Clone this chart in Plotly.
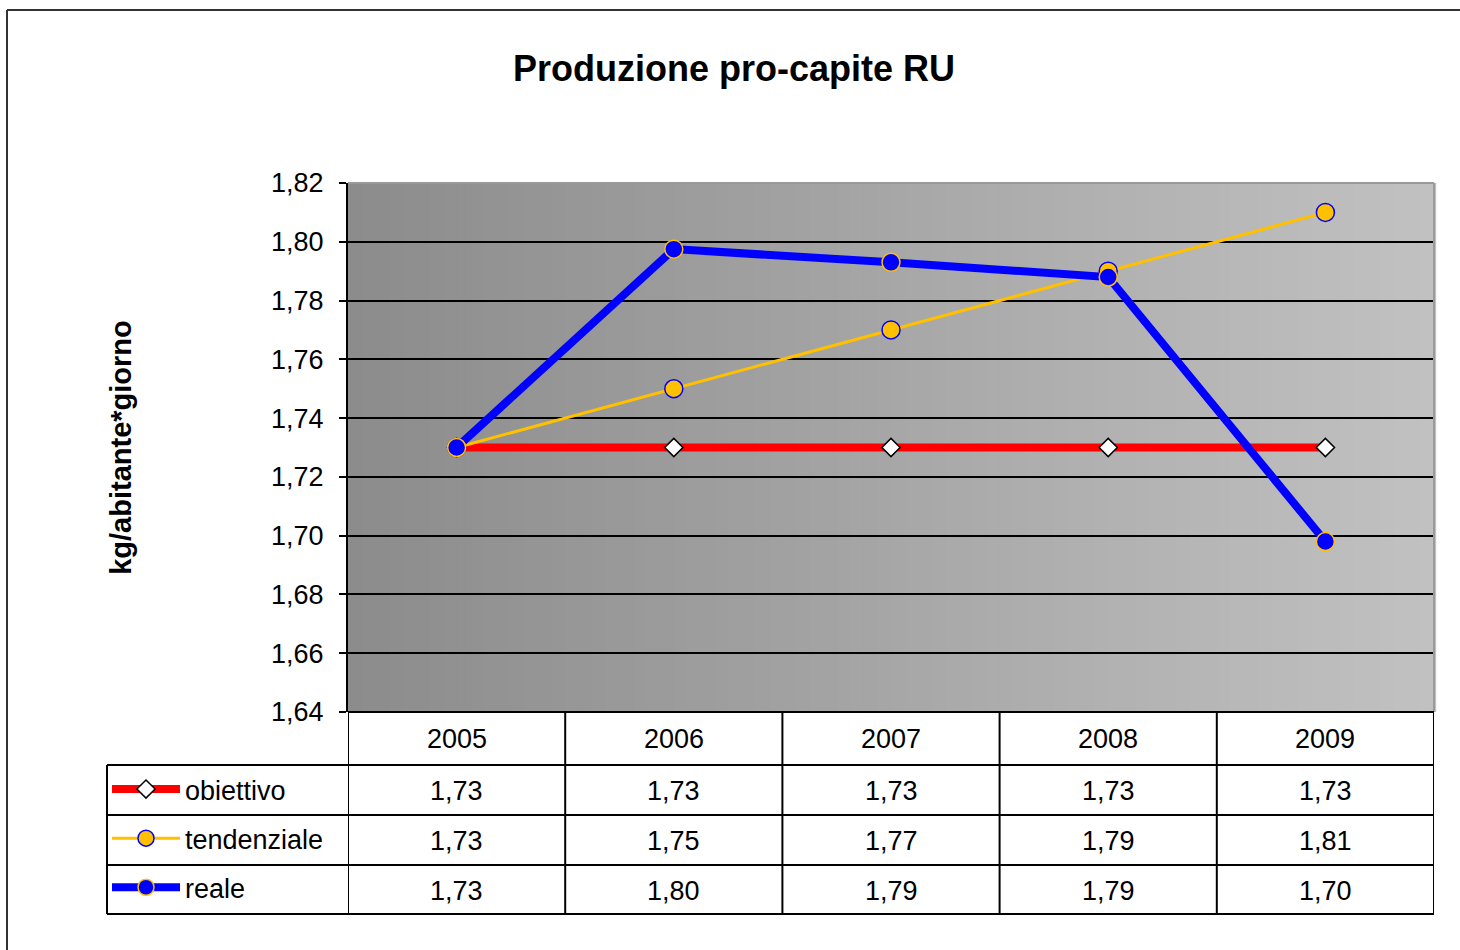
import plotly.graph_objects as go

# ---- data ----
anni = [2005, 2006, 2007, 2008, 2009]
obiettivo = [1.73, 1.73, 1.73, 1.73, 1.73]
tendenziale = [1.73, 1.75, 1.77, 1.79, 1.81]
reale = [1.730, 1.7975, 1.793, 1.788, 1.698]
serie_nomi = ["obiettivo", "tendenziale", "reale"]
y_ticks = [1.64, 1.66, 1.68, 1.70, 1.72, 1.74, 1.76, 1.78, 1.80, 1.82]

W, H = 1460, 950
FONT = "Liberation Sans, Arial, sans-serif"

def px(v):
    return v / W

def py(v):
    return 1 - v / H

# plot area in pixels
PL, PR, PT, PB = 348, 1434, 183, 712
# table rows (pixels)
ROW_TOP = [712, 765, 815, 865]
ROW_BOT = 914
TAB_LEFT = 107

fig = go.Figure()

fig.add_trace(go.Scatter(
    x=anni, y=obiettivo, name=serie_nomi[0], mode="lines+markers",
    line=dict(color="#FF0000", width=8),
    marker=dict(symbol="diamond", size=14, color="white", line=dict(color="black", width=1.5)),
    legendgroup="a",
))
fig.add_trace(go.Scatter(
    x=anni, y=tendenziale, name=serie_nomi[1], mode="lines+markers",
    line=dict(color="#FFC000", width=3),
    marker=dict(symbol="circle", size=18, color="#FFC000", line=dict(color="#0000FF", width=1.5)),
    legendgroup="b",
))
fig.add_trace(go.Scatter(
    x=anni, y=reale, name=serie_nomi[2], mode="lines+markers",
    line=dict(color="#0000FF", width=8),
    marker=dict(symbol="circle", size=18, color="#0000FF", line=dict(color="#FFC000", width=1.5)),
    legendgroup="c",
))

shapes = []
# gradient background
N = 80
c0, c1 = (140, 140, 140), (193, 193, 193)
for i in range(N):
    t = i / (N - 1)
    c = tuple(int(round(c0[k] + (c1[k] - c0[k]) * t)) for k in range(3))
    shapes.append(dict(type="rect", xref="x domain", yref="y domain",
                       x0=i / N, x1=(i + 1) / N + 0.002, y0=0, y1=1,
                       fillcolor="rgb(%d,%d,%d)" % c, line=dict(width=0), layer="below"))
# plot area frame (top & right light gray)
shapes.append(dict(type="line", xref="x domain", yref="y domain", x0=0, x1=1, y0=1, y1=1,
                   line=dict(color="#9a9a9a", width=2)))
shapes.append(dict(type="line", xref="x domain", yref="y domain", x0=1, x1=1, y0=0, y1=1,
                   line=dict(color="#9a9a9a", width=2)))

# outer chart border
shapes.append(dict(type="line", xref="paper", yref="paper", x0=px(7), x1=1.0, y0=py(10), y1=py(10),
                   line=dict(color="#333333", width=2)))
shapes.append(dict(type="line", xref="paper", yref="paper", x0=px(7), x1=px(7), y0=py(10), y1=0,
                   line=dict(color="#333333", width=2)))

tab_line = dict(color="black", width=2)
# table horizontal lines
shapes.append(dict(type="line", xref="paper", yref="paper", x0=px(PL), x1=px(PR), y0=py(PB), y1=py(PB), line=tab_line))
for yy in ROW_TOP[1:] + [ROW_BOT]:
    shapes.append(dict(type="line", xref="paper", yref="paper", x0=px(TAB_LEFT), x1=px(PR),
                       y0=py(yy), y1=py(yy), line=tab_line))
# table vertical lines
for k in range(len(anni) + 1):
    xb = anni[0] - 0.5 + k
    shapes.append(dict(type="line", xref="x", yref="paper", x0=xb, x1=xb,
                       y0=py(PB), y1=py(ROW_BOT), line=tab_line))
shapes.append(dict(type="line", xref="paper", yref="paper", x0=px(TAB_LEFT), x1=px(TAB_LEFT),
                   y0=py(ROW_TOP[1]), y1=py(ROW_BOT), line=tab_line))

annotations = []
cell_font = dict(family=FONT, size=27, color="black")
for i, a in enumerate(anni):
    annotations.append(dict(x=a, y=py((ROW_TOP[0] + ROW_TOP[1]) / 2), xref="x", yref="paper",
                            text=str(a), showarrow=False, font=cell_font, xanchor="center", yanchor="middle"))
series = [obiettivo, tendenziale, reale]
for r, vals in enumerate(series):
    top = ROW_TOP[r + 1]
    bot = ROW_TOP[r + 2] if r + 2 < len(ROW_TOP) else ROW_BOT
    for i, a in enumerate(anni):
        annotations.append(dict(x=a, y=py((top + bot) / 2 + 1), xref="x", yref="paper",
                                text=("%.2f" % vals[i]).replace(".", ","), showarrow=False,
                                font=cell_font, xanchor="center", yanchor="middle"))

fig.update_layout(
    width=W, height=H,
    margin=dict(l=0, r=0, t=0, b=0, autoexpand=False),
    paper_bgcolor="white",
    plot_bgcolor="rgba(0,0,0,0)",
    separators=", ",
    font=dict(family=FONT, color="black"),
    title=dict(text="<b>Produzione pro-capite RU</b>", x=px(734), xanchor="center",
               y=py(68), yanchor="middle", font=dict(family=FONT, size=36, color="black")),
    xaxis=dict(domain=[px(PL), px(PR)], range=[anni[0] - 0.5, anni[-1] + 0.5], showticklabels=False,
               showgrid=False, zeroline=False, ticks="", showline=False),
    yaxis=dict(domain=[py(PB), py(PT)], range=[1.64, 1.82], tickvals=y_ticks,
               tickformat=".2f", showgrid=True, gridcolor="black", gridwidth=2,
               zeroline=False, showline=True, linecolor="black", linewidth=2,
               ticks="outside", ticklen=7, tickwidth=2, tickcolor="black",
               ticklabelstandoff=10,
               tickfont=dict(family=FONT, size=27, color="black"),
               title=dict(text="<b>kg/abitante*giorno</b>", standoff=131,
                          font=dict(family=FONT, size=29, color="black"))),
    showlegend=True,
    legend=dict(x=px(107), y=py(765), xanchor="left", yanchor="top",
                bgcolor="rgba(0,0,0,0)", borderwidth=0, tracegroupgap=11,
                itemwidth=68, font=dict(family=FONT, size=27, color="black"),
                traceorder="grouped"),
    shapes=shapes,
    annotations=annotations,
)

fig.write_html("out.html", config={"displayModeBar": False},
               post_script="document.body.style.margin='0';")
